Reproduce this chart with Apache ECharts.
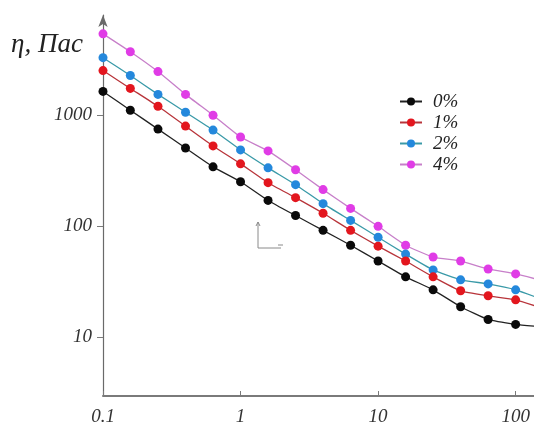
<!DOCTYPE html>
<html>
<head>
<meta charset="utf-8">
<script src="https://cdn.jsdelivr.net/npm/echarts@6/dist/echarts.min.js"></script>
<style>
html,body{margin:0;padding:0;background:#fff;}
#chart{width:534px;height:426px;}
</style>
</head>
<body>
<div id="chart"></div>
<script>
// shear rate values (log spaced)
var shearRate = [0.1, 0.158, 0.251, 0.398, 0.631, 1, 1.585, 2.512, 3.981, 6.31, 10, 15.85, 25.12, 39.81, 63.1, 100, 158.5];
var seriesNames = ['0%', '1%', '2%', '4%'];
var eta0 = [1637, 1109, 750, 507, 343, 252, 171, 125, 92, 67.6, 48.7, 35.1, 26.8, 18.9, 14.5, 13.1, 12.4];
var eta1 = [2522, 1742, 1203, 798, 529, 365, 247, 181, 131, 92, 66.3, 48.7, 35.1, 26.3, 23.7, 21.8, 18.2];
var eta2 = [3295, 2276, 1540, 1064, 735, 487, 336, 237, 160, 113, 79.8, 56.2, 40.5, 33.0, 30.3, 26.8, 21.8];
var eta4 = [5399, 3728, 2471, 1540, 1000, 636, 477, 323, 214, 145, 100, 67.6, 52.9, 48.7, 41.3, 37.3, 32.3];
var xTickLabels = ['0.1', '1', '10', '100'];
var yTickLabels = ['10', '100', '1000'];
var yTitle = 'η, Пас';

var colors = ['#0a0a0a', '#e3161e', '#2488dc', '#e03ce6'];
var lineColors = ['#222222', '#b8343a', '#3a9aa8', '#c77fc9'];

function pair(xs, ys) {
  var out = [];
  for (var i = 0; i < xs.length; i++) out.push([xs[i], ys[i]]);
  return out;
}
function fmt(v) {
  return String(Number(v.toPrecision(6)));
}
var allY = [eta0, eta1, eta2, eta4];
var series = seriesNames.map(function (n, i) {
  return {
    name: n,
    type: 'line',
    data: pair(shearRate, allY[i]),
    symbol: 'circle',
    symbolSize: 9,
    smooth: 0.15,
    clip: true,
    itemStyle: { color: colors[i] },
    lineStyle: { color: lineColors[i], width: 1.3 },
    emphasis: { disabled: true },
    z: 10 - i
  };
});

var labelFont = { fontFamily: 'Liberation Serif', fontStyle: 'italic', fontSize: 19, color: '#333' };

var chart = echarts.init(document.getElementById('chart'), null, { renderer: 'canvas' });
chart.setOption({
  animation: false,
  backgroundColor: '#fff',
  title: {
    text: yTitle,
    left: 11,
    top: 31,
    padding: 0,
    textStyle: { fontFamily: 'Liberation Serif', fontStyle: 'italic', fontWeight: 'normal', fontSize: 27, color: '#222' }
  },
  grid: { left: 103, top: 15, right: 0, bottom: 27, containLabel: false },
  legend: {
    orient: 'vertical',
    left: 394,
    top: 87,
    itemWidth: 22,
    itemHeight: 10,
    itemGap: 2,
    data: seriesNames,
    textStyle: { fontFamily: 'Liberation Serif', fontStyle: 'italic', fontSize: 19, lineHeight: 18, color: '#222', padding: [0, 0, 0, 6] }
  },
  xAxis: {
    type: 'log',
    logBase: 10,
    min: 0.1,
    max: 136,
    axisLine: { show: true, lineStyle: { color: '#7a7a7a', width: 2 } },
    axisTick: { show: true, inside: true, length: 5, lineStyle: { color: '#7a7a7a' } },
    splitLine: { show: false },
    minorTick: { show: false },
    axisLabel: Object.assign({
      margin: 11,
      showMaxLabel: false,
      formatter: function (v) {
        var s = fmt(v);
        return xTickLabels.indexOf(s) >= 0 ? s : '';
      }
    }, labelFont)
  },
  yAxis: {
    type: 'log',
    logBase: 10,
    min: 2.97,
    max: 7980,
    axisLine: { show: true, symbol: ['none', 'arrow'], symbolSize: [7, 12], lineStyle: { color: '#6a6a6a', width: 1.2 } },
    axisTick: { show: true, length: 6, lineStyle: { color: '#7a7a7a' } },
    splitLine: { show: false },
    axisLabel: Object.assign({
      margin: 11,
      showMinLabel: false,
      showMaxLabel: false,
      formatter: function (v) {
        var s = fmt(v);
        return yTickLabels.indexOf(s) >= 0 ? s : '';
      }
    }, labelFont)
  },
  graphic: [
    {
      type: 'polyline',
      shape: { points: [[256, 226], [258, 222], [260, 226]] },
      style: { stroke: '#8a8a8a', fill: null, lineWidth: 1 }
    },
    {
      type: 'polyline',
      shape: { points: [[258, 222], [258, 248], [281, 248]] },
      style: { stroke: '#8a8a8a', fill: null, lineWidth: 1 }
    },
    {
      type: 'polyline',
      shape: { points: [[278, 245], [283, 245]] },
      style: { stroke: '#8a8a8a', fill: null, lineWidth: 1 }
    }
  ],
  series: series
});
</script>
</body>
</html>
